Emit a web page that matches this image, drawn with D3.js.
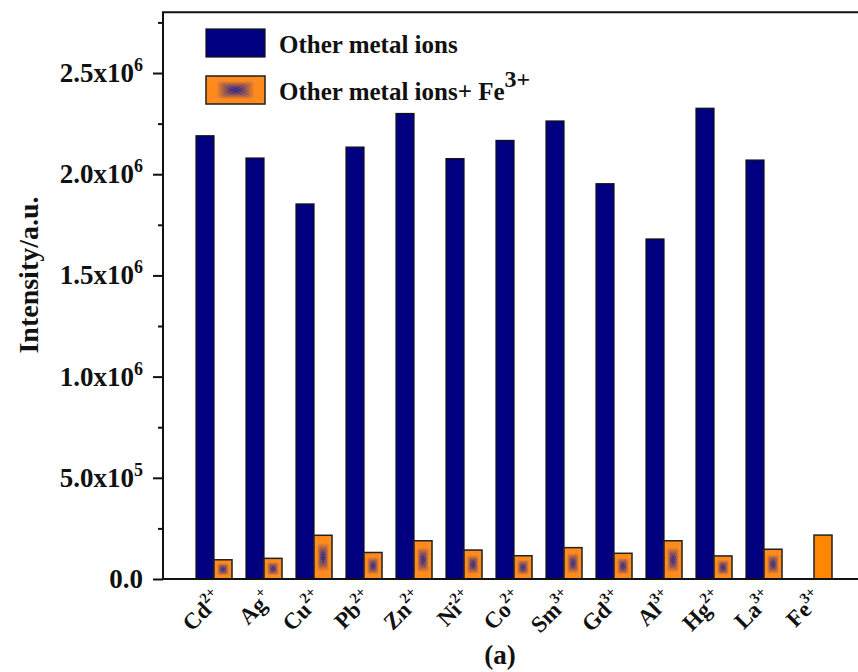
<!DOCTYPE html>
<html><head><meta charset="utf-8">
<script src="https://cdn.jsdelivr.net/npm/d3@7"></script>
<style>
body{margin:0;background:#fff;}
text{font-family:"Liberation Serif","Times New Roman",serif;font-weight:bold;fill:#111;}
</style></head>
<body><svg id="c" width="858" height="672"></svg>
<script>
const ions = ["Cd","Ag","Cu","Pb","Zn","Ni","Co","Sm","Gd","Al","Hg","La","Fe"];
const charges = ["2+","+","2+","2+","2+","2+","2+","3+","3+","3+","2+","3+","3+"];
const otherIons = [2.19e6,2.08e6,1.853e6,2.134e6,2.30e6,2.077e6,2.167e6,2.263e6,1.953e6,1.68e6,2.326e6,2.07e6,null];
const withFe = [0.95e5,1.02e5,2.16e5,1.31e5,1.89e5,1.43e5,1.15e5,1.55e5,1.27e5,1.89e5,1.14e5,1.47e5,2.17e5];
const yMajor = [0,5e5,1e6,1.5e6,2e6,2.5e6];
const yTickLabels = [["0.0",""],["5.0x10","5"],["1.0x10","6"],["1.5x10","6"],["2.0x10","6"],["2.5x10","6"]];
const legendLabels = ["Other metal ions","Other metal ions+ Fe"];

const svg = d3.select("#c");
const x = d3.scaleLinear().domain([0,14]).range([164,864]);
const y = d3.scaleLinear().domain([0,2.8e6]).range([579,12.3]);
const bw = x(0.36)-x(0);

const NAVY="#000080", ORANGE="#ff8a1c", CENTER="#1c1a8a";
const defs = svg.append("defs");
[["gT",0,0,0,1],["gB",0,1,0,0],["gL",0,0,1,0],["gR",1,0,0,0]].forEach(([id,x1,y1,x2,y2])=>{
  const g = defs.append("linearGradient").attr("id",id).attr("x1",x1).attr("y1",y1).attr("x2",x2).attr("y2",y2);
  g.append("stop").attr("offset",0).attr("stop-color",ORANGE);
  g.append("stop").attr("offset",0.35).attr("stop-color",ORANGE);
  g.append("stop").attr("offset",1).attr("stop-color",CENTER);
});

function boxGrad(g,x0,y0,w,h){
  const cx=x0+w/2, cy=y0+h/2;
  const tris=[["gT",[[x0,y0],[x0+w,y0],[cx,cy]]],["gB",[[x0,y0+h],[x0+w,y0+h],[cx,cy]]],
              ["gL",[[x0,y0],[x0,y0+h],[cx,cy]]],["gR",[[x0+w,y0],[x0+w,y0+h],[cx,cy]]]];
  tris.forEach(([id,pts])=>{
    g.append("polygon").attr("points",pts.map(p=>p.join(",")).join(" "))
     .attr("fill",`url(#${id})`).attr("stroke",`url(#${id})`).attr("stroke-width",0.3);
  });
  g.append("rect").attr("x",x0).attr("y",y0).attr("width",w).attr("height",h)
   .attr("fill","none").attr("stroke","#222").attr("stroke-width",1.5);
}

// blue bars
svg.append("g").selectAll("rect").data(ions.map((d,i)=>({i,v:otherIons[i]})).filter(d=>d.v!=null))
 .join("rect").attr("x",d=>x(d.i+1)-bw).attr("y",d=>y(d.v)).attr("width",bw).attr("height",d=>y(0)-y(d.v))
 .attr("fill",NAVY).attr("stroke","#111").attr("stroke-width",1.2);

// orange bars
const og = svg.append("g");
withFe.forEach((v,i)=>{
  const x0=x(i+1), y0=y(v), h=y(0)-y(v);
  if(ions[i]==="Fe"){
    og.append("rect").attr("x",x0).attr("y",y0).attr("width",bw).attr("height",h)
      .attr("fill","#ff8800").attr("stroke","#222").attr("stroke-width",1.5);
  } else boxGrad(og.append("g"),x0,y0,bw,h);
});

// axes
const ya = d3.axisLeft(y).tickValues(d3.range(0,2.8e6+1,2.5e5)).tickSize(0).tickFormat("");
const yg = svg.append("g").attr("transform",`translate(${x(0)-1},0)`).call(ya);
yg.select(".domain").remove();
yg.selectAll(".tick line").attr("x2",d=>yMajor.includes(d)?-10:-5).attr("stroke","#111").attr("stroke-width",2);
yMajor.forEach((v,k)=>{
  const t = svg.append("text").attr("x",143).attr("y",y(v)+9).attr("text-anchor","end").attr("font-size",27);
  t.append("tspan").text(yTickLabels[k][0]);
  if(yTickLabels[k][1]) t.append("tspan").attr("dy",-11).attr("font-size",18).text(yTickLabels[k][1]);
});
// frame lines
svg.append("line").attr("x1",x(0)-1).attr("x2",x(0)-1).attr("y1",y.range()[1]).attr("y2",y(0)+1).attr("stroke","#111").attr("stroke-width",2);
svg.append("line").attr("x1",x(0)-2).attr("x2",858).attr("y1",y(0)).attr("y2",y(0)).attr("stroke","#111").attr("stroke-width",2.2);
svg.append("line").attr("x1",x(0)-2).attr("x2",858).attr("y1",y.range()[1]).attr("y2",y.range()[1]).attr("stroke","#111").attr("stroke-width",2);

// x labels
ions.forEach((d,i)=>{
  const t = svg.append("text").attr("text-anchor","end").attr("font-size",23)
    .attr("transform",`translate(${x(i+1)+10},${600}) rotate(-45)`);
  t.append("tspan").text(d);
  t.append("tspan").attr("dy",-10).attr("font-size",15).text(charges[i]);
});

// y title
svg.append("text").attr("transform","translate(38,275) rotate(-90)").attr("text-anchor","middle")
 .attr("font-size",28).text("Intensity/a.u.");
// (a)
svg.append("text").attr("x",500).attr("y",664).attr("text-anchor","middle").attr("font-size",27).text("(a)");

// legend
svg.append("rect").attr("x",206).attr("y",29).attr("width",59).attr("height",28).attr("fill",NAVY).attr("stroke","#111").attr("stroke-width",1.2);
boxGrad(svg.append("g"),206,76,59,28);
svg.append("text").attr("x",279).attr("y",53).attr("font-size",25).text(legendLabels[0]);
const l2 = svg.append("text").attr("x",279).attr("y",100).attr("font-size",25);
l2.append("tspan").text(legendLabels[1]);
l2.append("tspan").attr("dy",-13).attr("font-size",24).text("3+");
</script></body></html>
